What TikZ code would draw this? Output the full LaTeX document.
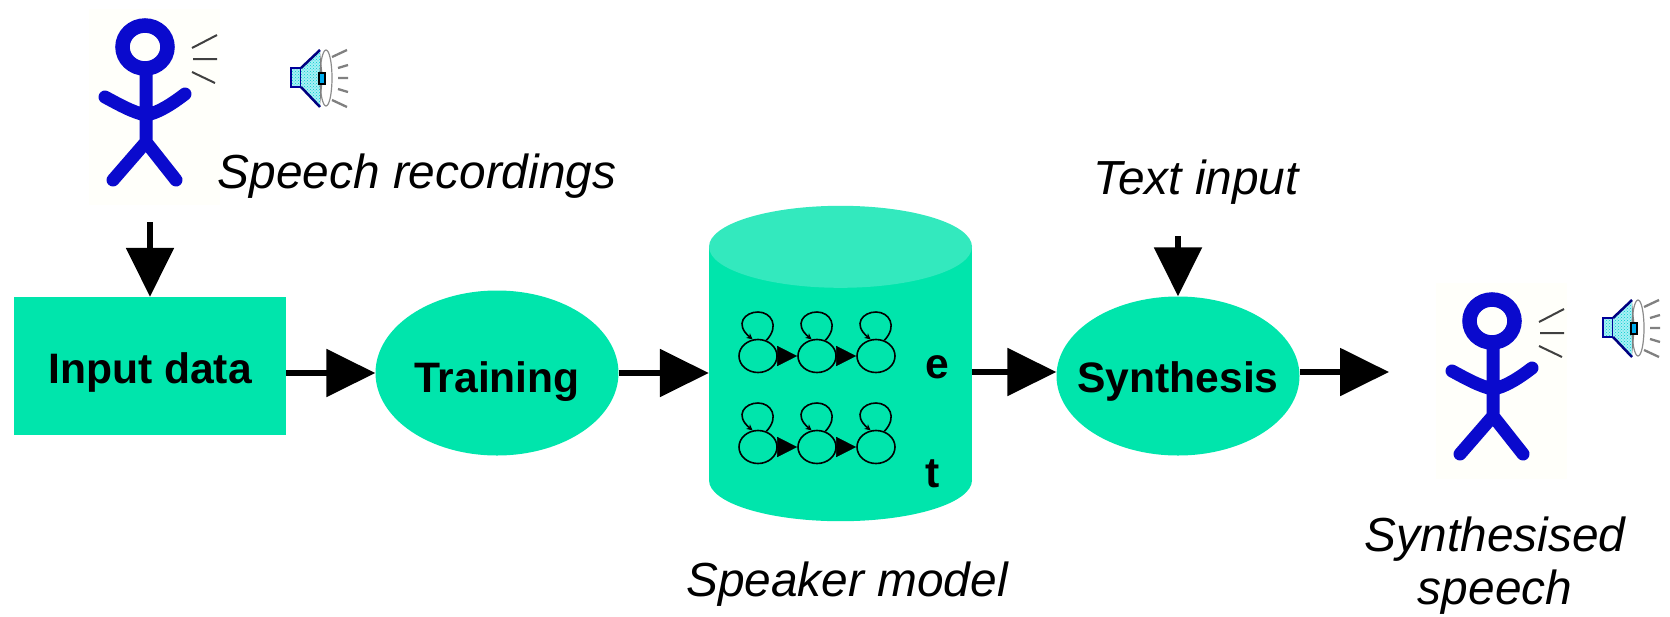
\documentclass[tikz,border=0pt]{standalone}
\usepackage{fontspec}
\setmainfont{Liberation Sans}
\usetikzlibrary{shapes.geometric,arrows.meta,patterns}
\definecolor{teal1}{HTML}{00E5AC}
\definecolor{teal2}{HTML}{33E9BE}
\definecolor{fig}{HTML}{0A0ACD}
\definecolor{conefill}{HTML}{A8F0F5}
\newcommand{\dropbase}[2]{\makebox[0pt]{\smash{\raisebox{-#1pt}{#2}}}}
\tikzset{
  x=1pt,y=-1pt,
  boldtxt/.style={font=\fontsize{42.6}{47}\selectfont\bfseries,text=black},
  ital/.style={font=\fontsize{47.8}{53}\selectfont\itshape,text=black,anchor=base,inner sep=0pt},
  proc/.style={ellipse,fill=teal1,inner sep=0pt,minimum width=243pt,boldtxt},
  bigarrow/.style={line width=5.5pt,-{Triangle[length=49pt,width=47pt]},black},
  state/.style={ellipse,draw=black,line width=1.6pt,inner sep=0pt,minimum width=38pt,minimum height=33pt},
  statearrow/.style={-{Triangle[length=20pt,width=20pt]},line width=0.5pt,black},
  selfloop/.style={line width=1.6pt,black,-{Stealth[length=6pt,width=6pt]}},
  person/.pic={
    \fill[white!98!yellow] (89,9) rectangle (220,205);
    \draw[fig,line width=14.5pt] (145,47) ellipse (22.5 and 21.5);
    \draw[fig,line width=13pt,line cap=round,line join=round]
      (146,72) -- (146,142)
      (105,97) .. controls (118,104) and (134,113) .. (146,115) .. controls (158,113) and (172,104) .. (185,94)
      (113,180) -- (146,142) -- (176,180);
    \draw[black!75,line width=2pt] (192,48) -- (217,35) (193,59) -- (217,59) (192,72) -- (215,83);
  },
  speaker/.pic={
    \fill[conefill] (291,68) rectangle (301,87);
    \fill[pattern=crosshatch dots,pattern color=cyan!80!black] (291,68) rectangle (301,87);
    \draw[blue!60!black,line width=2pt] (291,68) -- (301,68) -- (301,87) -- (291,87) -- cycle;
    \fill[conefill] (301,68) -- (320,50) -- (320,107) -- (301,87) -- cycle;
    \fill[pattern=crosshatch dots,pattern color=cyan!80!black] (301,68) -- (320,50) -- (320,107) -- (301,87) -- cycle;
    \draw[blue!50!black,line width=2.5pt] (301,68) -- (320,50) (301,87) -- (320,107);
    \draw[black!45,line width=1.2pt,fill=white] (326,78) ellipse (6 and 28);
    \fill[black!50] (320,52) -- (323,78) -- (320,105) -- cycle;
    \draw[black,line width=1.5pt,fill=cyan] (319,73) rectangle (325,84);
    \draw[black!50,line width=2.3pt] (332,57) -- (347,50) (338,68) -- (348,65) (338,78) -- (348,78) (338,89) -- (348,92) (332,100) -- (347,107);
  }
}
\begin{document}
\begin{tikzpicture}[x=1pt,y=-1pt]
\useasboundingbox (0,0) rectangle (1670,616);
\pic (p1) at (0,0) {person};
\pic (s1) at (0,0) {speaker};
\pic (p2) at (1347,274) {person};
\pic (s2) at (1312,250) {speaker};

\node[rectangle,fill=teal1,minimum width=272pt,minimum height=138pt,inner sep=0pt,boldtxt] (input) at (150,366) {\dropbase{17}{Input data}};
\node[proc,minimum height=165pt] (training) at (497,373) {\dropbase{19}{Training}};
\node[rectangle,inner sep=0pt,minimum width=263pt,minimum height=315pt] (model) at (840.5,363.5) {};
\fill[teal1] ([yshift=-41pt]model.north west) rectangle ([yshift=41pt]model.south east);
\fill[teal1] ([yshift=41pt]model.south) ellipse (131.5 and 41);
\fill[teal2] ([yshift=-41pt]model.north) ellipse (131.5 and 41);
\node[proc,minimum height=159pt] (synth) at (1178,376) {\dropbase{16}{Synthesis}};

\foreach \r/\yy in {a/356,b/447}{
  \foreach \c/\xx in {1/758,2/817,3/876}{
    \node[state] (\r\c) at (\xx,\yy) {};
    \draw[selfloop] (\r\c.62) .. controls ([shift={(22,-30)}]\r\c.center) and ([shift={(13,-44)}]\r\c.center) .. ([shift={(0,-44)}]\r\c.center) .. controls ([shift={(-13,-44)}]\r\c.center) and ([shift={(-24,-32)}]\r\c.center) .. (\r\c.108);
  }
  \draw[statearrow] (\r1.east) -- (\r2.west);
  \draw[statearrow] (\r2.east) -- (\r3.west);
}
\node[boldtxt,anchor=base,inner sep=0pt] (e) at (937,378) {e};
\node[boldtxt,anchor=base,inner sep=0pt] (t) at (933,487) {t};

\node[ital] (rec) at (417,188) {Speech recordings};
\node[ital] (txt) at (1196,194) {Text input};
\node[ital] (spk) at (847,596) {Speaker model};
\node[ital] (syn1) at (1495,551) {Synthesised};
\node[ital] (syn2) at (1495,604) {speech};

\coordinate (rectop) at (150,222);
\coordinate (txttop) at (1178,236);
\coordinate (out) at (1389,372);
\draw[bigarrow] (rectop) -- (input.north);
\draw[bigarrow] (txttop) -- (synth.north);
\draw[bigarrow] (input.east |- training.west) -- (training.west);
\draw[bigarrow] (training.east) -- (model.west |- training.east);
\draw[bigarrow] (model.east |- out) -- (synth.west |- out);
\draw[bigarrow] (synth.east |- out) -- (out);
\end{tikzpicture}
\end{document}
